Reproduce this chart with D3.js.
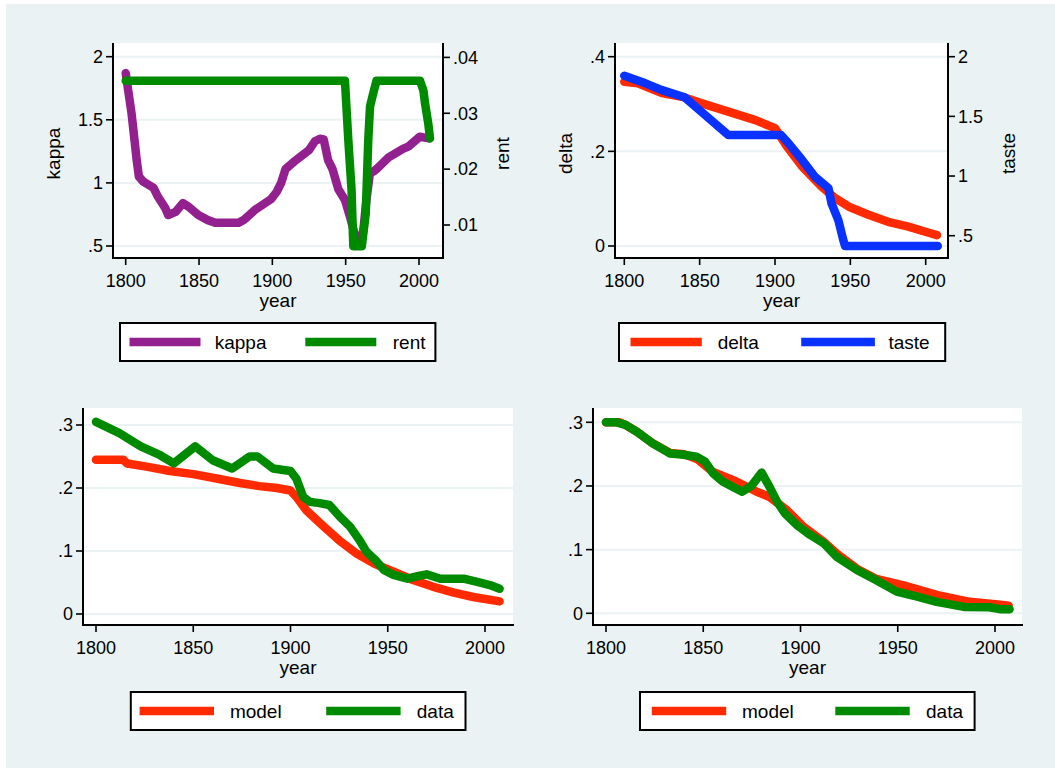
<!DOCTYPE html>
<html><head><meta charset="utf-8">
<script src="https://cdn.jsdelivr.net/npm/d3@7"></script>
<style>
body{margin:0;background:#fff}
svg{display:block}
text{font-family:"Liberation Sans",Arial,Helvetica,sans-serif;fill:#000}
</style>
</head><body>
<svg id="c" width="1055" height="768"></svg>
<script>
// ---------------- DATA ----------------
const xTicks = [1800, 1850, 1900, 1950, 2000];
const xTickLabels = ["1800", "1850", "1900", "1950", "2000"];

const kappaTicks = [0.5, 1, 1.5, 2];
const kappaTickLabels = [".5", "1", "1.5", "2"];
const rentTicks = [0.01, 0.02, 0.03, 0.04];
const rentTickLabels = [".01", ".02", ".03", ".04"];
const deltaTicks = [0, 0.2, 0.4];
const deltaTickLabels = ["0", ".2", ".4"];
const tasteTicks = [0.5, 1, 1.5, 2];
const tasteTickLabels = [".5", "1", "1.5", "2"];
const shareTicks = [0, 0.1, 0.2, 0.3];
const shareTickLabels = ["0", ".1", ".2", ".3"];

const kappaYears = [1800,1802,1804,1806,1807.5,1809,1812,1819,1822,1827,1829,1834,1839,1843,1849.5,1856,1861,1877,1881,1888,1899,1903,1906,1909,1915,1925,1929,1932.5,1935,1938,1941,1945,1949.5,1953,1956,1958,1960,1962,1964,1966.5,1969,1972,1979,1989,1993,2000.5,2007];
const kappaValues = [1.87,1.71,1.55,1.34,1.18,1.05,1.01,0.96,0.89,0.80,0.745,0.77,0.84,0.81,0.745,0.705,0.685,0.685,0.71,0.785,0.87,0.93,1.0,1.11,1.17,1.26,1.33,1.35,1.345,1.18,1.11,0.95,0.865,0.73,0.6,0.54,0.54,0.62,0.85,1.076,1.09,1.12,1.2,1.27,1.29,1.366,1.353];

const rentYears = [1800,1949.5,1951.8,1954,1955.2,1961,1963.7,1965.4,1966.6,1968.8,1971,2000.7,2003,2004.1,2006.3,2007.5];
const rentValues = [0.0358,0.0358,0.0252,0.0163,0.0062,0.0062,0.0121,0.0252,0.0312,0.0336,0.0358,0.0358,0.0341,0.0318,0.0282,0.0255];

const deltaYears = [1800,1809,1825,1840,1851,1869,1887,1900,1908,1918,1931,1940,1949,1962,1975,1988.5,2002,2007.5];
const deltaValues = [0.347,0.344,0.323,0.314,0.302,0.284,0.266,0.249,0.210,0.168,0.125,0.101,0.083,0.066,0.051,0.041,0.028,0.023];

const tasteYears = [1800,1814,1825,1840,1851,1869,1904,1909,1918,1926.5,1935.5,1937.5,1942,1945.3,1946.5,2008];
const tasteValues = [1.84,1.777,1.72,1.66,1.54,1.344,1.344,1.274,1.134,0.994,0.897,0.771,0.631,0.464,0.413,0.413];

const model1Years = [1800,1814,1816,1826,1838,1850,1862,1874,1884,1893,1900,1903,1908,1917,1925,1934,1943,1953,1963,1973,1984,1994,2007.5];
const model1Values = [0.245,0.245,0.239,0.234,0.227,0.222,0.215,0.208,0.203,0.200,0.196,0.186,0.165,0.139,0.117,0.096,0.080,0.067,0.054,0.0435,0.034,0.027,0.020];

const data1Years = [1800,1812,1823,1833,1840,1851,1860,1870,1879,1883,1891,1900,1903,1906.5,1910,1915,1920,1925.5,1930.5,1935.5,1939,1943.5,1948,1953,1960,1966.5,1970,1977,1989,1996,2002.5,2007.5];
const data1Values = [0.305,0.287,0.266,0.252,0.239,0.266,0.244,0.231,0.250,0.250,0.231,0.227,0.215,0.186,0.178,0.176,0.173,0.154,0.139,0.117,0.099,0.086,0.070,0.062,0.056,0.061,0.063,0.056,0.056,0.051,0.046,0.040];

const model2Years = [1800,1807,1810,1816,1824,1833,1840,1847,1855,1867,1877.5,1884,1893,1901.5,1912,1919,1929,1939,1953,1970,1987,2004,2007];
const model2Values = [0.300,0.300,0.296,0.285,0.267,0.252,0.250,0.242,0.222,0.207,0.191,0.183,0.162,0.136,0.112,0.093,0.070,0.054,0.044,0.029,0.018,0.013,0.012];

const data2Years = [1800,1805.5,1810,1816,1824,1833,1840,1846.5,1851,1855,1860,1865.5,1870,1875,1880,1884,1888,1892,1898,1905,1912,1918.5,1929,1939,1949.5,1960,1970,1984,1997,2002.5,2007.5];
const data2Values = [0.300,0.300,0.296,0.285,0.267,0.251,0.249,0.246,0.238,0.220,0.207,0.198,0.191,0.201,0.221,0.199,0.175,0.157,0.139,0.123,0.110,0.089,0.068,0.052,0.034,0.026,0.018,0.010,0.0095,0.0065,0.0065];

// ---------------- STYLE / LAYOUT ----------------
const C = {purple:"#93208F", green:"#008A00", red:"#FF2A00", blue:"#0A32FF", bg:"#EAF2F3", grid:"#EAF2F3"};

const panels = [
  { rect:[113,43,443,258], xr:[125.7,419],
    left:{d:[0.5,2], r:[246,56.7], ticks:kappaTicks, labels:kappaTickLabels, title:"kappa", tx:59.5},
    right:{d:[0.01,0.04], r:[225,57.4], ticks:rentTicks, labels:rentTickLabels, title:"rent", tx:508.5},
    series:[{x:kappaYears,y:kappaValues,ax:"left",color:C.purple,name:"kappa"},
            {x:rentYears,y:rentValues,ax:"right",color:C.green,name:"rent"}],
    legend:{box:[120,323,435.4,361], keys:[[129.5,200.5,214.7],[305.3,376.3,392.8]]} },
  { rect:[615,43,948,258], xr:[624.3,925.7],
    left:{d:[0,0.4], r:[246,56.7], ticks:deltaTicks, labels:deltaTickLabels, title:"delta", tx:572.3},
    right:{d:[0.5,2], r:[235.7,56.7], ticks:tasteTicks, labels:tasteTickLabels, title:"taste", tx:1015},
    series:[{x:deltaYears,y:deltaValues,ax:"left",color:C.red,name:"delta"},
            {x:tasteYears,y:tasteValues,ax:"right",color:C.blue,name:"taste"}],
    legend:{box:[619,323,945.2,361], keys:[[630.5,701.8,717.7],[801.2,874.9,888.4]]} },
  { rect:[83,408,513,625], xr:[96,485],
    left:{d:[0,0.3], r:[614,425], ticks:shareTicks, labels:shareTickLabels, title:null},
    right:null,
    series:[{x:model1Years,y:model1Values,ax:"left",color:C.red,name:"model"},
            {x:data1Years,y:data1Values,ax:"left",color:C.green,name:"data"}],
    legend:{box:[130.8,692,465.5,730], keys:[[139.6,214,229.9],[326.2,400.6,416.8]]} },
  { rect:[593,408,1022,625], xr:[606,995],
    left:{d:[0,0.3], r:[613.3,422.3], ticks:shareTicks, labels:shareTickLabels, title:null},
    right:null,
    series:[{x:model2Years,y:model2Values,ax:"left",color:C.red,name:"model"},
            {x:data2Years,y:data2Values,ax:"left",color:C.green,name:"data"}],
    legend:{box:[640,692,974.6,730], keys:[[651.8,726.2,742],[835.3,909.7,926]]} }
];

const svg = d3.select("#c");
svg.append("rect").attr("x",6).attr("y",4).attr("width",1049).attr("height",764).attr("fill",C.bg);

const TICK = 7, FS_TICK = 18, FS_TITLE = 19;

panels.forEach(p => {
  const [x0,y0,x1,y1] = p.rect;
  const g = svg.append("g");
  g.append("rect").attr("x",x0).attr("y",y0).attr("width",x1-x0).attr("height",y1-y0).attr("fill","#fff");

  const x = d3.scaleLinear().domain([1800,2000]).range(p.xr);
  const yl = d3.scaleLinear().domain(p.left.d).range(p.left.r);
  const yr = p.right ? d3.scaleLinear().domain(p.right.d).range(p.right.r) : null;

  // gridlines
  g.selectAll(".grid").data(p.left.ticks).join("line")
    .attr("x1",x0+1).attr("x2",x1).attr("y1",d=>yl(d)).attr("y2",d=>yl(d))
    .attr("stroke",C.grid).attr("stroke-width",2);

  // series
  p.series.forEach(s => {
    const ys = s.ax==="left" ? yl : yr;
    const pts = s.x.map((v,i)=>[v,s.y[i]]);
    g.append("path").datum(pts)
      .attr("d", d3.line().x(d=>x(d[0])).y(d=>ys(d[1])))
      .attr("fill","none").attr("stroke",s.color).attr("stroke-width",8.5)
      .attr("stroke-linejoin","round").attr("stroke-linecap","round");
  });

  // left axis
  g.append("line").attr("x1",x0).attr("x2",x0).attr("y1",y0).attr("y2",y1+1).attr("stroke","#000").attr("stroke-width",2);
  p.left.ticks.forEach((t,i) => {
    g.append("line").attr("x1",x0-TICK).attr("x2",x0).attr("y1",yl(t)).attr("y2",yl(t)).attr("stroke","#000").attr("stroke-width",1.6);
    g.append("text").attr("x",x0-TICK-3).attr("y",yl(t)).attr("dy","0.35em").attr("text-anchor","end")
      .attr("font-size",FS_TICK).text(p.left.labels[i]);
  });
  if (p.left.title) {
    g.append("text").attr("transform",`translate(${p.left.tx},${(y0+y1)/2+3}) rotate(-90)`)
      .attr("text-anchor","middle").attr("font-size",FS_TITLE).text(p.left.title);
  }
  // right axis
  if (p.right) {
    g.append("line").attr("x1",x1).attr("x2",x1).attr("y1",y0).attr("y2",y1+1).attr("stroke","#000").attr("stroke-width",2);
    p.right.ticks.forEach((t,i) => {
      g.append("line").attr("x1",x1).attr("x2",x1+TICK).attr("y1",yr(t)).attr("y2",yr(t)).attr("stroke","#000").attr("stroke-width",1.6);
      g.append("text").attr("x",x1+TICK+3).attr("y",yr(t)).attr("dy","0.35em").attr("text-anchor","start")
        .attr("font-size",FS_TICK).text(p.right.labels[i]);
    });
    g.append("text").attr("transform",`translate(${p.right.tx},${(y0+y1)/2+3}) rotate(-90)`)
      .attr("text-anchor","middle").attr("font-size",FS_TITLE).text(p.right.title);
  }
  // bottom axis
  g.append("line").attr("x1",x0-1).attr("x2",x1+1).attr("y1",y1).attr("y2",y1).attr("stroke","#000").attr("stroke-width",2);
  xTicks.forEach((t,i) => {
    g.append("line").attr("x1",x(t)).attr("x2",x(t)).attr("y1",y1).attr("y2",y1+TICK).attr("stroke","#000").attr("stroke-width",1.6);
    g.append("text").attr("x",x(t)).attr("y",y1+29).attr("text-anchor","middle").attr("font-size",FS_TICK).text(xTickLabels[i]);
  });
  g.append("text").attr("x",(x0+x1)/2).attr("y",y1+48.5).attr("text-anchor","middle").attr("font-size",FS_TITLE).text("year");

  // legend
  const [lx0,ly0,lx1,ly1] = p.legend.box;
  g.append("rect").attr("x",lx0).attr("y",ly0).attr("width",lx1-lx0).attr("height",ly1-ly0)
    .attr("fill","#fff").attr("stroke","#000").attr("stroke-width",2);
  const ky = (ly0+ly1)/2;
  p.series.forEach((s,i) => {
    const [a,b,tx] = p.legend.keys[i];
    g.append("line").attr("x1",a).attr("x2",b).attr("y1",ky).attr("y2",ky)
      .attr("stroke",s.color).attr("stroke-width",8.5);
    g.append("text").attr("x",tx).attr("y",ky+6.5).attr("font-size",FS_TITLE).text(s.name);
  });
});
</script>
</body></html>
